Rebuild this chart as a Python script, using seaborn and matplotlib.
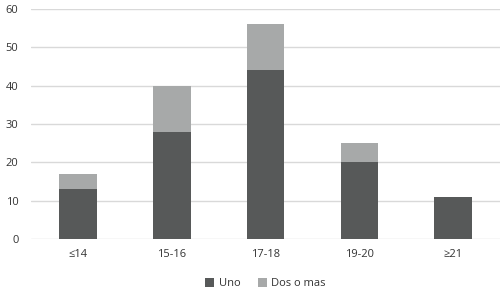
import matplotlib
matplotlib.use("Agg")
import matplotlib.pyplot as plt
import seaborn as sns
import pandas as pd

categories = ["≤14", "15-16", "17-18", "19-20", "≥21"]
uno = [13, 28, 44, 20, 11]
dos_o_mas = [4, 12, 12, 5, 0]
series_names = ["Uno", "Dos o mas"]
yticks = [0, 10, 20, 30, 40, 50, 60]

sns.set_theme(style="white")
plt.rcParams['font.family'] = ['Open Sans', 'DejaVu Sans']

df = pd.DataFrame({"cat": categories, "uno": uno,
                   "total": [a + b for a, b in zip(uno, dos_o_mas)]})

fig = plt.figure(figsize=(5.01, 2.92), dpi=100)
ax = fig.add_axes([0.062, 0.182, 0.936, 0.787])

dark = "#575959"
light = "#a7a9a9"
sns.barplot(data=df, x="cat", y="total", color=light, width=0.4,
            saturation=1, ax=ax, label=series_names[1], zorder=2,
            linewidth=0, edgecolor="none")
sns.barplot(data=df, x="cat", y="uno", color=dark, width=0.4,
            saturation=1, ax=ax, label=series_names[0], zorder=3,
            linewidth=0, edgecolor="none")

ax.set_ylim(0, 60)
ax.set_xlim(-0.5, 4.5)
ax.set_yticks(yticks)
ax.yaxis.grid(True, color="#d9d9d9", linewidth=1, zorder=0)
ax.set_axisbelow(True)
for s in ax.spines.values():
    s.set_visible(False)
ax.set_xlabel("")
ax.set_ylabel("")
ax.tick_params(axis="both", length=0, labelsize=8, colors="#333333")
ax.tick_params(axis="y", pad=9)
ax.tick_params(axis="x", pad=7)

handles, labels = ax.get_legend_handles_labels()
order = [labels.index(n) for n in series_names]
ax.legend([handles[i] for i in order], [labels[i] for i in order],
          loc="center", bbox_to_anchor=(0.5, -0.196), ncol=2,
          frameon=False, fontsize=8, handlelength=0.8, handleheight=0.8,
          handletextpad=0.4, columnspacing=1.6, labelcolor="#333333",
          borderaxespad=0, borderpad=0)

fig.savefig("out.png", dpi=100)
